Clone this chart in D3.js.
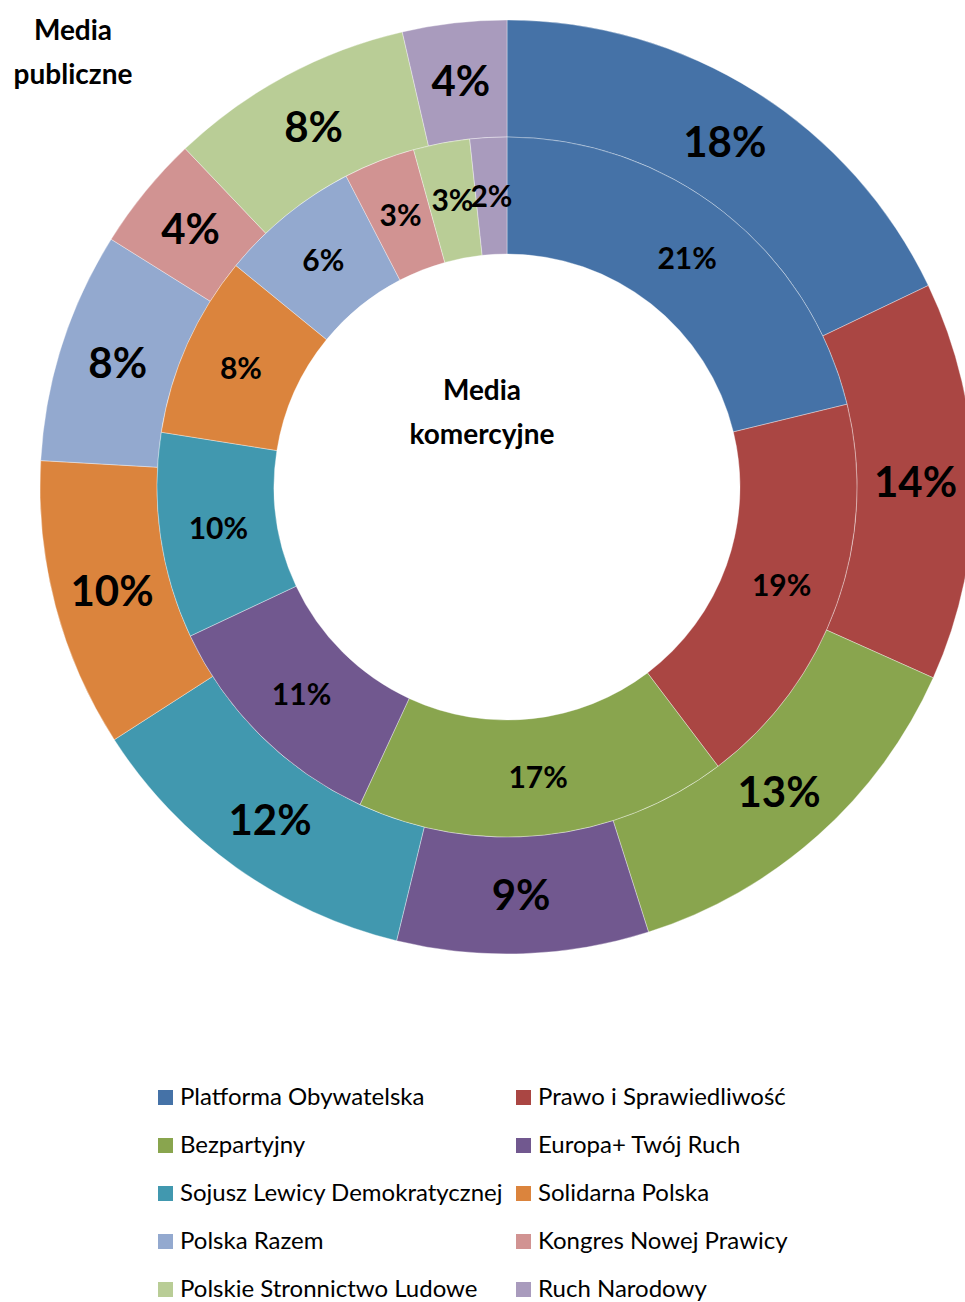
<!DOCTYPE html>
<html>
<head>
<meta charset="utf-8">
<script src="https://cdnjs.cloudflare.com/ajax/libs/d3/7.8.5/d3.min.js"></script>
<style>
body { margin: 0; background: #fff; }
svg { display: block; font-family: Lato, "Open Sans", sans-serif; }
</style>
</head>
<body>
<div id="chart"></div>
<script>
var parties = ["Platforma Obywatelska", "Prawo i Sprawiedliwość", "Bezpartyjny",
    "Europa+ Twój Ruch", "Sojusz Lewicy Demokratycznej", "Solidarna Polska",
    "Polska Razem", "Kongres Nowej Prawicy", "Polskie Stronnictwo Ludowe", "Ruch Narodowy"];
var colors = ["#4572A7", "#AA4643", "#89A54E", "#71588F", "#4198AF",
    "#DB843D", "#93A9CF", "#D19392", "#B9CD96", "#A99BBD"];

// outer ring: Media publiczne
var publicValues = [17.9, 13.8, 13.4, 8.7, 12.1, 10.0, 8.0, 4.0, 8.5, 3.6];
var publicLabels = ["18%", "14%", "13%", "9%", "12%", "10%", "8%", "4%", "8%", "4%"];
// inner ring: Media komercyjne
var commercialValues = [21.2, 18.5, 17.2, 11.1, 9.5, 8.4, 6.5, 3.3, 2.6, 1.7];
var commercialLabels = ["21%", "19%", "17%", "11%", "10%", "8%", "6%", "3%", "3%", "2%"];

var W = 965, H = 1302;
var cx = 507, cy = 487;
var rHole = 233, rMid = 350, rOut = 467;

var svg = d3.select("#chart").append("svg")
    .attr("width", W)
    .attr("height", H);

var g = svg.append("g")
    .attr("transform", "translate(" + cx + "," + cy + ")");

var pie = d3.pie().sort(null).value(function(d) { return d; });

function ring(values, labels, r0, r1, fontSize) {
    var arc = d3.arc().innerRadius(r0).outerRadius(r1);
    var arcs = pie(values);
    var grp = g.append("g");
    grp.selectAll("path")
        .data(arcs)
        .enter().append("path")
        .attr("d", arc)
        .attr("fill", function(d, i) { return colors[i]; })
        .attr("stroke", "#ffffff")
        .attr("stroke-opacity", 0.6)
        .attr("stroke-width", 0.6);
    grp.selectAll("text")
        .data(arcs)
        .enter().append("text")
        .attr("transform", function(d) { return "translate(" + arc.centroid(d) + ")"; })
        .attr("text-anchor", "middle")
        .attr("dy", "0.36em")
        .attr("font-size", fontSize)
        .attr("font-weight", "bold")
        .attr("fill", "#000")
        .text(function(d, i) { return labels[i]; });
}

ring(publicValues, publicLabels, rMid, rOut, 42);
ring(commercialValues, commercialLabels, rHole, rMid, 30);

// titles
function title(x, y, lines) {
    lines.forEach(function(t, i) {
        svg.append("text")
            .attr("x", x).attr("y", y + i * 44)
            .attr("text-anchor", "middle")
            .attr("font-size", 28).attr("font-weight", "bold")
            .text(t);
    });
}
title(73, 40, ["Media", "publiczne"]);
title(482, 400, ["Media", "komercyjne"]);

// legend
var legend = svg.append("g");
var item = legend.selectAll("g")
    .data(parties)
    .enter().append("g")
    .attr("transform", function(d, i) {
        var col = i % 2, row = Math.floor(i / 2);
        return "translate(" + (col ? 516 : 158) + "," + (1097 + row * 48) + ")";
    });
item.append("rect")
    .attr("x", 0).attr("y", -7)
    .attr("width", 15).attr("height", 15)
    .attr("fill", function(d, i) { return colors[i]; });
item.append("text")
    .attr("x", 22).attr("y", 0)
    .attr("dy", "0.35em")
    .attr("font-size", 24)
    .attr("fill", "#000")
    .text(function(d) { return d; });
</script>
</body>
</html>
